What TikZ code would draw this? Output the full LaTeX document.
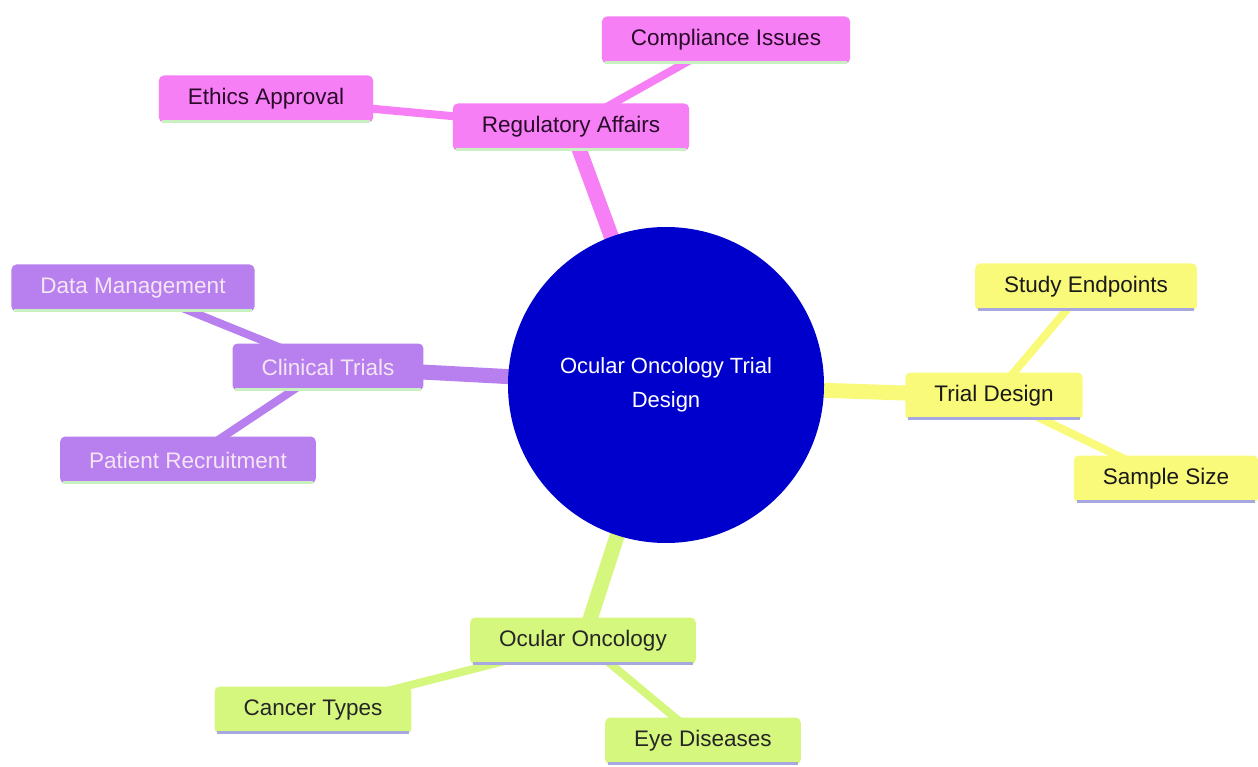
\documentclass[tikz,border=0pt]{standalone}
\usepackage{fontspec}
\setmainfont{Liberation Sans}
\usetikzlibrary{backgrounds}
\definecolor{pinkc}{HTML}{F77FF5}
\definecolor{purpc}{HTML}{B87FEF}
\definecolor{yelc}{HTML}{FAFA7A}
\definecolor{grnc}{HTML}{D6F77E}
\definecolor{blue0}{HTML}{0000CD}
\definecolor{lgreen}{HTML}{C8F0C0}
\definecolor{lav}{HTML}{A8A8E0}
\definecolor{pinktxt}{HTML}{2A0A2A}
\definecolor{purptxt}{HTML}{F4E6F4}
\begin{document}
\begin{tikzpicture}[x=1pt,y=-1pt,
  box/.style={rectangle,rounded corners=5pt,minimum height=47pt,inner xsep=29pt,
    font=\fontsize{22.5}{25}\selectfont},
  pinkbox/.style={box,fill=pinkc,text=pinktxt},
  purpbox/.style={box,fill=purpc,text=purptxt},
  yelbox/.style={box,fill=yelc,text=black!90},
  grnbox/.style={box,fill=grnc,text=black!85},
  thick1/.style={line width=15pt},
  thin2/.style={line width=8pt},
  gline/.style={line width=3pt,draw=lgreen},
  lline/.style={line width=3pt,draw=lav}]
\useasboundingbox (0,0) rectangle (1258,767);
% center
\node[circle,fill=blue0,minimum size=316pt,text=white,align=center,
  font=\fontsize{22}{34}\selectfont] (c) at (666,385) {Ocular Oncology Trial\\Design};
% regulatory
\node[pinkbox] (reg) at (571,127) {Regulatory Affairs};
\node[pinkbox] (eth) at (266,99) {Ethics Approval};
\node[pinkbox] (comp) at (726,40) {Compliance Issues};
% clinical
\node[purpbox] (clin) at (328,367) {Clinical Trials};
\node[purpbox] (data) at (133,288) {Data Management};
\node[purpbox] (pat) at (188,460) {Patient Recruitment};
% trial design
\node[yelbox] (td) at (994,396) {Trial Design};
\node[yelbox] (se) at (1086,287) {Study Endpoints};
\node[yelbox] (ss) at (1166,479) {Sample Size};
% ocular oncology
\node[grnbox] (oo) at (583,641) {Ocular Oncology};
\node[grnbox] (ct) at (313,710) {Cancer Types};
\node[grnbox] (ed) at (703,741) {Eye Diseases};
% bottom lines
\foreach \n in {reg,eth,comp,clin,data,pat}
  \draw[gline] ([xshift=3pt,yshift=1pt]\n.south west) -- ([xshift=-3pt,yshift=1pt]\n.south east);
\foreach \n in {td,se,ss,oo,ct,ed}
  \draw[lline] ([xshift=3pt,yshift=1pt]\n.south west) -- ([xshift=-3pt,yshift=1pt]\n.south east);
\begin{scope}[on background layer]
\fill[white] (0,0) rectangle (1258,767);
\draw[thick1,pinkc] (c.center) -- (reg.center);
\draw[thin2,pinkc] (reg.center) -- (eth.center);
\draw[thin2,pinkc] (reg.center) -- (comp.center);
\draw[thick1,purpc] (c.center) -- (clin.center);
\draw[thin2,purpc] (clin.center) -- (data.center);
\draw[thin2,purpc] (clin.center) -- (pat.center);
\draw[thick1,yelc] (c.center) -- (td.center);
\draw[thin2,yelc] (td.center) -- (se.center);
\draw[thin2,yelc] (td.center) -- (ss.center);
\draw[thick1,grnc] (c.center) -- (oo.center);
\draw[thin2,grnc] (oo.center) -- (ct.center);
\draw[thin2,grnc] (oo.center) -- (ed.center);
\end{scope}
\end{tikzpicture}
\end{document}
